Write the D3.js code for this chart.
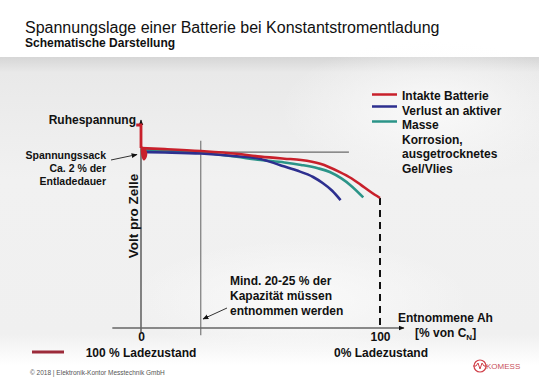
<!DOCTYPE html>
<html lang="de">
<head>
    <meta charset="UTF-8">
    <title>Spannungslage einer Batterie bei Konstantstromentladung</title>
    <script src="https://cdn.jsdelivr.net/npm/d3@7/dist/d3.min.js"></script>
    <style>
        body { margin: 0; background: #fff; }
        text { font-family: Arial, "Liberation Sans", sans-serif; fill: #111; }
    </style>
</head>
<body>
<script type="application/javascript">

    let w = 539, h = 377;

    // entnommene Kapazität in % von C_N, Spannung relativ (schematisch, 0..100)
    let intaktX = [0, 10, 25, 40, 50, 60, 67, 75, 83, 88, 92, 96, 100];
    let intaktY = [86.5, 86, 85.1, 83.8, 82.4, 81.4, 80.8, 79, 75.1, 72, 68.8, 65.5, 62.5];

    // Verlust an aktiver Masse (blau) - bricht am frühesten ein
    let masseX = [0, 10, 25, 40, 50, 58, 65, 72, 76, 80, 83.5];
    let masseY = [84.6, 84.4, 83.9, 82.6, 81.3, 78.4, 75.8, 72.6, 69.7, 66, 61.5];

    // Korrosion, ausgetrocknetes Gel/Vlies (türkis)
    let korrX = [0, 10, 25, 40, 50, 60, 67, 74, 79, 84, 87.5, 93];
    let korrY = [85.6, 85.2, 84.4, 82.3, 80.8, 79.6, 78.4, 76.8, 75, 71.8, 68.8, 62.8];

    // Ruhespannung und Spannungssack am Anfang der Entladung
    let ruheX = [-2, 0, 0];
    let ruheY = [97.6, 97.6, 86.5];
    let sackX = [0, 1.6, 2.6, 2.3, 1.2, 0.2];
    let sackY = [87, 86.6, 84.2, 81.8, 80.5, 82.5];

    let seriesNames = ["Intakte Batterie", "Verlust an aktiver Masse", "Korrosion, ausgetrocknetes Gel/Vlies"];
    let seriesColors = ["#c8202b", "#2d2f8f", "#2b9488"];
    let legendLines = ["Intakte Batterie", "Verlust an aktiver", "Masse", "Korrosion,", "ausgetrocknetes", "Gel/Vlies"];

    let xTicks = [0, 100];
    let minEntnahme = 25;   // Mind. 20-25 %
    let horizontY = 84.6;

    let x = d3.scaleLinear().domain([0, 100]).range([141, 380]);
    let y = d3.scaleLinear().domain([0, 100]).range([328, 120]);

    let svg = d3.select("body").append("svg")
        .attr("width", w)
        .attr("height", h);

    // Hintergrund
    let defs = svg.append("defs");
    let bg = defs.append("linearGradient").attr("id", "bg")
        .attr("x1", 0).attr("y1", 0).attr("x2", 0).attr("y2", 1);
    bg.append("stop").attr("offset", "0%").attr("stop-color", "#d6d6d6");
    bg.append("stop").attr("offset", "5%").attr("stop-color", "#e9e9e9");
    bg.append("stop").attr("offset", "40%").attr("stop-color", "#f1f1f1");
    bg.append("stop").attr("offset", "90%").attr("stop-color", "#f0f0f0");
    bg.append("stop").attr("offset", "100%").attr("stop-color", "#ffffff");
    let glow = defs.append("radialGradient").attr("id", "glow");
    glow.append("stop").attr("offset", "0%").attr("stop-color", "#fbfbfb").attr("stop-opacity", 0.9);
    glow.append("stop").attr("offset", "100%").attr("stop-color", "#fbfbfb").attr("stop-opacity", 0);

    svg.append("rect").attr("width", w).attr("height", h).attr("fill", "#fff");
    svg.append("rect").attr("x", 0).attr("y", 57).attr("width", w).attr("height", 308).attr("fill", "url(#bg)");
    svg.append("ellipse").attr("cx", 430).attr("cy", 110).attr("rx", 150).attr("ry", 70).attr("fill", "url(#glow)");
    svg.append("ellipse").attr("cx", 300).attr("cy", 300).attr("rx", 170).attr("ry", 60).attr("fill", "url(#glow)");

    // Pfeilspitzen
    defs.append("marker").attr("id", "arr")
        .attr("viewBox", "0 0 10 10").attr("refX", 9).attr("refY", 5)
        .attr("markerWidth", 6).attr("markerHeight", 6)
        .attr("markerUnits", "userSpaceOnUse")
        .attr("orient", "auto")
        .append("path").attr("d", "M0,1 L10,5 L0,9 z").attr("fill", "#111");

    // Titel
    svg.append("text").attr("x", 25).attr("y", 33)
        .style("font-size", "16px")
        .text("Spannungslage einer Batterie bei Konstantstromentladung");
    svg.append("text").attr("x", 25).attr("y", 47)
        .style("font-size", "12px").style("font-weight", "bold")
        .text("Schematische Darstellung");

    // Hilfslinien
    svg.append("line")
        .attr("x1", x(minEntnahme)).attr("x2", x(minEntnahme))
        .attr("y1", y(90)).attr("y2", y(-3.5))
        .attr("stroke", "#7a7a7a").attr("stroke-width", 1.2);
    svg.append("line")
        .attr("x1", x(0)).attr("x2", x(87))
        .attr("y1", y(horizontY)).attr("y2", y(horizontY))
        .attr("stroke", "#6a6a6a").attr("stroke-width", 1.2);

    // Achsen
    svg.append("line")
        .attr("x1", x(0)).attr("x2", x(0))
        .attr("y1", y(-2)).attr("y2", y(100))
        .attr("stroke", "#666").attr("stroke-width", 1.6)
        .attr("marker-end", "url(#arr)");
    svg.append("line")
        .attr("x1", x(-12)).attr("x2", x(110))
        .attr("y1", y(0)).attr("y2", y(0))
        .attr("stroke", "#666").attr("stroke-width", 1.6)
        .attr("marker-end", "url(#arr)");

    let xAxis = svg.append("g")
        .attr("transform", "translate(0," + y(0) + ")")
        .call(d3.axisBottom(x).tickValues(xTicks).tickSize(0).tickPadding(4));
    xAxis.select(".domain").remove();
    xAxis.selectAll("text")
        .style("font-size", "12px").style("font-weight", "bold")
        .style("font-family", "Arial, 'Liberation Sans', sans-serif")
        .attr("fill", "#111");

    // Entladeschluss
    svg.append("line")
        .attr("x1", x(100)).attr("x2", x(100))
        .attr("y1", y(intaktY[intaktY.length - 1])).attr("y2", y(0))
        .attr("stroke", "#111").attr("stroke-width", 2)
        .attr("stroke-dasharray", "7,5");

    // Kurven
    let line = d3.line()
        .x(function(d) { return x(d[0]); })
        .y(function(d) { return y(d[1]); })
        .curve(d3.curveMonotoneX);

    let curves = [
        d3.zip(intaktX, intaktY),
        d3.zip(masseX, masseY),
        d3.zip(korrX, korrY)
    ];

    // Zeichenreihenfolge: teal, blau, rot oben
    [2, 1, 0].forEach(function(i) {
        svg.append("path")
            .attr("d", line(curves[i]))
            .attr("fill", "none")
            .attr("stroke", seriesColors[i])
            .attr("stroke-width", 2.6);
    });

    svg.append("path")
        .attr("d", d3.line()
            .x(function(d) { return x(d[0]); })
            .y(function(d) { return y(d[1]); })(d3.zip(ruheX, ruheY)))
        .attr("fill", "none")
        .attr("stroke", seriesColors[0])
        .attr("stroke-width", 2.8);

    svg.append("path")
        .attr("d", d3.line()
            .x(function(d) { return x(d[0]); })
            .y(function(d) { return y(d[1]); })
            .curve(d3.curveCardinalClosed)(d3.zip(sackX, sackY)))
        .attr("fill", seriesColors[0]);

    // Beschriftungen
    svg.append("text").attr("x", 136).attr("y", 124)
        .attr("text-anchor", "end")
        .style("font-size", "12px").style("font-weight", "bold")
        .text("Ruhespannung");

    let sack = svg.append("text").attr("text-anchor", "end")
        .style("font-size", "10.5px").style("font-weight", "bold");
    ["Spannungssack", "Ca. 2 % der", "Entladedauer"].forEach(function(t, i) {
        sack.append("tspan").attr("x", 106).attr("y", 159 + i * 13).text(t);
    });
    svg.append("line")
        .attr("x1", 111).attr("y1", 160).attr("x2", 137).attr("y2", 154.5)
        .attr("stroke", "#333").attr("stroke-width", 1)
        .attr("marker-end", "url(#arr)");

    svg.append("text")
        .attr("transform", "translate(138,216) rotate(-90)")
        .attr("text-anchor", "middle")
        .style("font-size", "13.5px").style("font-weight", "bold")
        .text("Volt pro Zelle");

    let mind = svg.append("text")
        .style("font-size", "12px").style("font-weight", "bold");
    ["Mind. 20-25 % der", "Kapazität müssen", "entnommen werden"].forEach(function(t, i) {
        mind.append("tspan").attr("x", 230).attr("y", 285 + i * 15).text(t);
    });
    svg.append("line")
        .attr("x1", 227).attr("y1", 308).attr("x2", 203).attr("y2", 319)
        .attr("stroke", "#333").attr("stroke-width", 1)
        .attr("marker-end", "url(#arr)");

    svg.append("text").attr("x", 398).attr("y", 322)
        .style("font-size", "12px").style("font-weight", "bold")
        .text("Entnommene Ah");
    let cn = svg.append("text").attr("x", 415).attr("y", 337)
        .style("font-size", "12px").style("font-weight", "bold");
    cn.append("tspan").text("[% von C");
    cn.append("tspan").attr("dy", 3).style("font-size", "8px").text("N");
    cn.append("tspan").attr("dy", -3).text("]");

    svg.append("text").attr("x", 141).attr("y", 357)
        .attr("text-anchor", "middle")
        .style("font-size", "12px").style("font-weight", "bold")
        .text("100 % Ladezustand");
    svg.append("text").attr("x", 381).attr("y", 357)
        .attr("text-anchor", "middle")
        .style("font-size", "12px").style("font-weight", "bold")
        .text("0% Ladezustand");
    svg.append("line")
        .attr("x1", 32).attr("x2", 64).attr("y1", 352).attr("y2", 352)
        .attr("stroke", "#9c2b3a").attr("stroke-width", 3);

    // Legende
    let lg = svg.append("g");
    [0, 1, 2].forEach(function(i) {
        lg.append("line")
            .attr("x1", 372).attr("x2", 397)
            .attr("y1", [94.5, 106.5, 121.5][i]).attr("y2", [94.5, 106.5, 121.5][i])
            .attr("stroke", seriesColors[i]).attr("stroke-width", 2.5);
    });
    let lt = lg.append("text")
        .style("font-size", "12px").style("font-weight", "bold");
    legendLines.forEach(function(t, i) {
        lt.append("tspan").attr("x", 402).attr("y", 100 + i * 14.5).text(t);
    });

    // Fußzeile
    svg.append("text").attr("x", 30).attr("y", 375)
        .style("font-size", "6.5px").attr("fill", "#555").style("fill", "#555")
        .text("© 2018 | Elektronik-Kontor Messtechnik GmbH");

    let logo = svg.append("g").attr("transform", "translate(480,366)");
    logo.append("circle").attr("r", 6).attr("fill", "none")
        .attr("stroke", "#d0404a").attr("stroke-width", 1.2);
    logo.append("path").attr("d", "M-7,0 L-4,0 L-2,-3 L0,3 L2,-3 L4,0 L7,0")
        .attr("fill", "none").attr("stroke", "#d0404a").attr("stroke-width", 1);
    logo.append("text").attr("x", 6).attr("y", 3)
        .style("font-size", "8px").style("fill", "#c8505a")
        .text("KOMESS");

</script>
</body>
</html>
